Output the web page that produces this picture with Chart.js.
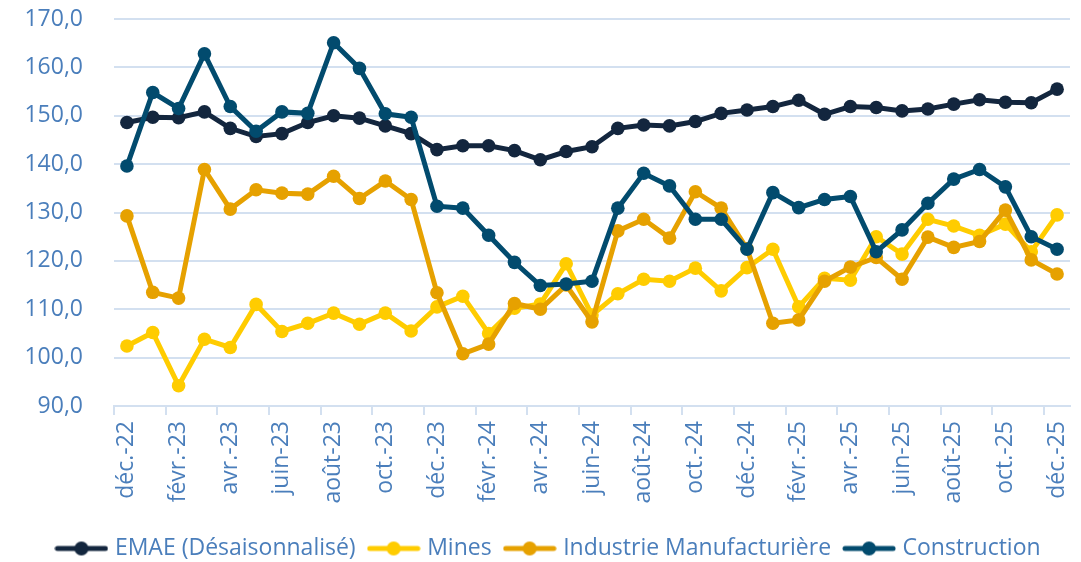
<!DOCTYPE html>
<html>
<head>
<meta charset="utf-8">
<script src="https://cdn.jsdelivr.net/npm/chart.js@4.4.1/dist/chart.umd.min.js"></script>
<style>
  html, body { margin: 0; padding: 0; background: #ffffff; }
  #wrap { width: 1081px; height: 562px; position: relative; }
</style>
</head>
<body>
<div id="wrap"><canvas id="c" width="1081" height="562"></canvas></div>
<script>
const categories = ["déc.-22","janv.-23","févr.-23","mars-23","avr.-23","mai-23","juin-23","juil.-23","août-23","sept.-23","oct.-23","nov.-23",
  "déc.-23","janv.-24","févr.-24","mars-24","avr.-24","mai-24","juin-24","juil.-24","août-24","sept.-24","oct.-24","nov.-24",
  "déc.-24","janv.-25","févr.-25","mars-25","avr.-25","mai-25","juin-25","juil.-25","août-25","sept.-25","oct.-25","nov.-25","déc.-25"];
const emae = [148.6,149.7,149.6,150.8,147.4,145.7,146.3,148.6,150.0,149.5,147.9,146.3,143.0,143.8,143.8,142.8,140.9,142.6,143.6,147.4,148.1,147.9,148.8,150.5,151.2,151.9,153.2,150.3,151.9,151.7,151.0,151.4,152.4,153.3,152.8,152.7,155.5];
const mines = [102.4,105.2,94.2,103.8,102.1,111.0,105.4,107.1,109.2,106.9,109.2,105.5,110.5,112.7,105.0,110.2,111.1,119.4,108.8,113.2,116.2,115.8,118.5,113.8,118.6,122.4,110.5,116.4,116.0,125.0,121.4,128.6,127.2,125.3,127.6,121.9,129.5];
const industrie = [129.3,113.5,112.3,138.9,130.7,134.7,134.0,133.8,137.5,132.9,136.5,132.7,113.4,100.8,102.8,111.2,110.0,115.0,107.4,126.2,128.6,124.7,134.3,130.9,122.5,107.1,107.8,115.8,118.7,120.7,116.2,124.9,122.8,124.0,130.5,120.2,117.3];
const construction = [139.6,154.8,151.5,162.8,151.9,146.8,150.8,150.5,165.1,159.8,150.4,149.7,131.3,130.9,125.3,119.7,114.9,115.2,115.8,130.9,138.1,135.5,128.6,128.6,122.4,134.1,131.0,132.7,133.3,121.9,126.4,131.9,136.9,138.9,135.3,125.0,122.4];
const seriesNames = ["EMAE (Désaisonnalisé)","Mines","Industrie Manufacturière","Construction"];
const yTicks = { min: 90, max: 170, step: 10 };

const colors = ["#13263e", "#ffcc00", "#e6a100", "#024b6e"];
const textColor = "#4a7ebb";
const gridColor = "#d3e0f0";
const FONT = "'Open Sans', sans-serif";

function legendMarker(color) {
  const cv = document.createElement('canvas');
  cv.width = 54; cv.height = 16;
  const g = cv.getContext('2d');
  g.strokeStyle = color; g.lineWidth = 5; g.lineCap = 'round';
  g.beginPath(); g.moveTo(3, 8); g.lineTo(51, 8); g.stroke();
  g.fillStyle = color; g.beginPath(); g.arc(27, 8, 7, 0, Math.PI * 2); g.fill();
  return cv;
}

function makeDataset(i, data) {
  return {
    label: seriesNames[i],
    data: data,
    borderColor: colors[i],
    backgroundColor: colors[i],
    pointBackgroundColor: colors[i],
    pointBorderColor: colors[i],
    pointBorderWidth: 0,
    pointRadius: 6.8,
    pointStyle: 'circle',
    borderWidth: 5,
    tension: 0,
    order: 4 - i
  };
}

const legendShift = {
  id: 'legendShift',
  afterLayout(chart) {
    const l = chart.legend;
    if (!l) return;
    l.left += 15; l.right += 15;
    l.top += 8; l.bottom += 8;
  }
};

function draw() {
  new Chart(document.getElementById('c'), {
    type: 'line',
    data: {
      labels: categories,
      datasets: [makeDataset(0, emae), makeDataset(1, mines), makeDataset(2, industrie), makeDataset(3, construction)]
    },
    plugins: [legendShift],
    options: {
      responsive: false,
      devicePixelRatio: 1,
      animation: false,
      layout: { padding: { left: 0, right: 11, top: 19, bottom: 0 } },
      plugins: {
        tooltip: { enabled: false },
        legend: {
          position: 'bottom',
          labels: {
            usePointStyle: true,
            pointStyleWidth: 44,
            padding: 16,
            color: textColor,
            font: { family: FONT, size: 23 },
            generateLabels: (chart) => chart.data.datasets.map((ds, i) => ({
              text: ds.label,
              fillStyle: ds.borderColor,
              strokeStyle: ds.borderColor,
              lineWidth: 0,
              pointStyle: legendMarker(ds.borderColor),
              fontColor: textColor,
              hidden: false,
              datasetIndex: i
            }))
          }
        }
      },
      scales: {
        x: {
          type: 'category',
          offset: true,
          grid: {
            offset: true, drawOnChartArea: false, drawTicks: true, tickLength: 9, lineWidth: 2,
            color: (ctx) => (ctx.index % 2 === 0 ? gridColor : 'rgba(0,0,0,0)')
          },
          border: { display: true, color: gridColor, width: 2 },
          ticks: {
            autoSkip: false,
            maxRotation: 90,
            minRotation: 90,
            padding: 6,
            color: textColor,
            font: { family: FONT, size: 23 },
            callback: function (v, i) { return i % 2 === 0 ? this.getLabelForValue(v) : ''; }
          },
          afterFit: (s) => { s.height = 107; s.paddingLeft = 0; s.paddingRight = 0; }
        },
        y: {
          min: yTicks.min,
          max: yTicks.max,
          grid: { color: gridColor, lineWidth: 2, drawTicks: false },
          border: { display: false },
          ticks: {
            stepSize: yTicks.step,
            padding: 31,
            color: textColor,
            font: { family: FONT, size: 23 },
            callback: (v) => v.toFixed(1).replace('.', ',')
          },
          afterFit: (s) => { s.width = 114; s.paddingTop = 0; s.paddingBottom = 0; }
        }
      }
    }
  });
}

if (document.fonts && document.fonts.load) {
  document.fonts.load("23px 'Open Sans'").then(draw, draw);
} else { draw(); }
</script>
</body>
</html>
